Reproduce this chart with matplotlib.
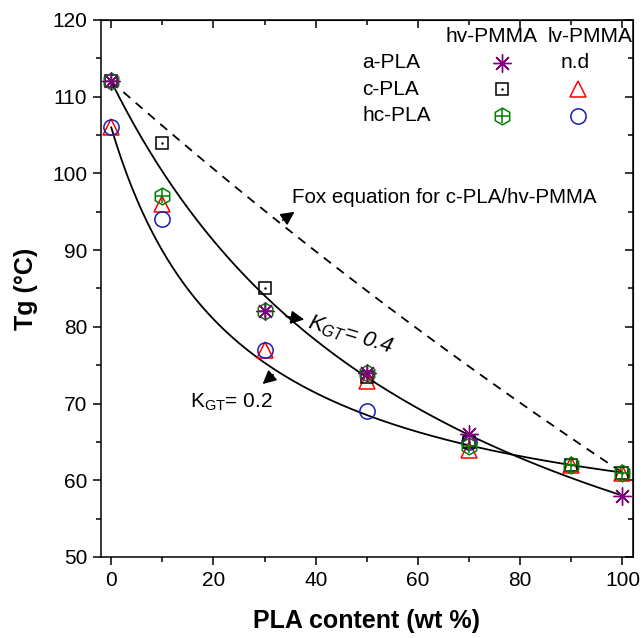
import numpy as np
import matplotlib
matplotlib.use('Agg')
from matplotlib import pyplot as plt
from matplotlib.ticker import MultipleLocator

plt.rcParams['font.family'] = ['Liberation Sans', 'DejaVu Sans']
plt.rcParams['mathtext.fontset'] = 'custom'
plt.rcParams['mathtext.rm'] = 'Liberation Sans'
plt.rcParams['mathtext.it'] = 'Liberation Sans:italic'

# measured Tg values (°C) vs PLA content (wt %)
a_hv_x = [0, 30, 50, 70, 100]
a_hv_y = [112, 82, 74, 66, 58]

c_hv_x = [0, 10, 30, 50, 70, 90, 100]
c_hv_y = [112, 104, 85, 73.5, 65, 62, 61]

hc_hv_x = [0, 10, 30, 50, 70, 90, 100]
hc_hv_y = [112, 97, 82, 74, 64.5, 62, 61]

c_lv_x = [0, 10, 30, 50, 70, 90, 100]
c_lv_y = [106, 96, 77, 73, 64, 62, 61]

hc_lv_x = [0, 10, 30, 50, 70]
hc_lv_y = [106, 94, 77, 69, 65]

# Gordon-Taylor and Fox model parameters shown on the chart
k_gt_upper, tg_pmma_upper, tg_pla_upper = 0.4, 112, 58
k_gt_lower, tg_pmma_lower, tg_pla_lower = 0.2, 106, 61
fox_tg_pmma, fox_tg_pla = 112, 61


def gordon_taylor(w, k, tg_pla, tg_pmma):
    return (w * tg_pla + k * (1 - w) * tg_pmma) / (w + k * (1 - w))


def fox(w, tg_pla, tg_pmma):
    return 1.0 / (w / (tg_pla + 273.15) + (1 - w) / (tg_pmma + 273.15)) - 273.15


fig = plt.figure(figsize=(6.42, 6.38), dpi=100)
ax = fig.add_axes([0.1573, 0.127, 0.8282, 0.8417])

w = np.linspace(0, 1, 200)
ax.plot(w * 100, fox(w, fox_tg_pla, fox_tg_pmma), 'k--', lw=1.3, dashes=(5, 4))
ax.plot(w * 100, gordon_taylor(w, k_gt_upper, tg_pla_upper, tg_pmma_upper), 'k-', lw=1.3)
ax.plot(w * 100, gordon_taylor(w, k_gt_lower, tg_pla_lower, tg_pmma_lower), 'k-', lw=1.3)

purple, green, red, blue = '#800080', '#008000', '#ff0000', '#1c1cb0'

# data markers
ax.plot(c_lv_x, c_lv_y, ls='none', marker='^', ms=11, mfc='none', mec=red, mew=1.1)
ax.plot(hc_lv_x, hc_lv_y, ls='none', marker='o', ms=11, mfc='none', mec=blue, mew=1.1)
ax.plot(c_hv_x, c_hv_y, ls='none', marker='s', ms=8, mfc='none', mec='black', mew=1.1)
ax.plot(c_hv_x, c_hv_y, ls='none', marker='.', ms=1.5, color='black')
ax.plot(hc_hv_x, hc_hv_y, ls='none', marker='h', ms=12, mfc='none', mec=green, mew=1.1)
ax.plot(hc_hv_x, hc_hv_y, ls='none', marker='+', ms=10, mec=green, mew=1.1)
ax.plot(a_hv_x, a_hv_y, ls='none', marker=(8, 2, 0), ms=13, mec=purple, mew=1.0)

# table-style legend
col_hv, col_lv = 76.4, 91.3
rows = [114.4, 111.0, 107.5]
fs = 15
ax.text(74.4, 117.8, 'hv-PMMA', ha='center', va='center', fontsize=fs)
ax.text(93.7, 117.8, 'lv-PMMA', ha='center', va='center', fontsize=fs, clip_on=False)
for label, yy in zip(['a-PLA', 'c-PLA', 'hc-PLA'], rows):
    ax.text(49.1, yy, label, ha='left', va='center', fontsize=fs)
ax.plot(col_hv, rows[0], marker=(8, 2, 0), ms=13, mec=purple, mew=1.0)
ax.text(col_lv - 0.5, rows[0], 'n.d', ha='center', va='center', fontsize=fs)
ax.plot(col_hv, rows[1], marker='s', ms=8, mfc='none', mec='black', mew=1.1)
ax.plot(col_hv, rows[1], marker='.', ms=1.5, color='black')
ax.plot(col_lv, rows[1], marker='^', ms=12, mfc='none', mec=red, mew=1.1)
ax.plot(col_hv, rows[2], marker='h', ms=12, mfc='none', mec=green, mew=1.1)
ax.plot(col_hv, rows[2], marker='+', ms=10, mec=green, mew=1.1)
ax.plot(col_lv, rows[2], marker='o', ms=11, mfc='none', mec=blue, mew=1.1)

# annotations
arrow = dict(arrowstyle='-|>', color='black', lw=1.2, mutation_scale=20)
ax.text(35.4, 96.9, 'Fox equation for c-PLA/hv-PMMA', ha='left', va='center', fontsize=14.8)
ax.annotate('', xy=(36.3, 95.2), xytext=(33.1, 93.7), arrowprops=arrow)

ax.text(38.6, 80.6, r'$\mathit{K}_{\mathit{GT}}$= 0.4', style='italic', ha='left', va='center',
        fontsize=16, rotation=-17, rotation_mode='anchor')
ax.annotate('', xy=(38.3, 80.9), xytext=(33.7, 81.4), arrowprops=arrow)

ax.text(15.5, 70.1, r'K$_{\mathrm{GT}}$= 0.2', ha='left', va='center', fontsize=15)
ax.annotate('', xy=(29.2, 72.3), xytext=(32.1, 74.0), arrowprops=arrow)

# axes
ax.set_xlim(-2, 102)
ax.set_ylim(50, 120)
ax.xaxis.set_major_locator(MultipleLocator(20))
ax.xaxis.set_minor_locator(MultipleLocator(10))
ax.yaxis.set_major_locator(MultipleLocator(10))
ax.yaxis.set_minor_locator(MultipleLocator(5))
ax.tick_params(which='major', direction='out', length=6, width=1.1, labelsize=15, pad=4)
ax.tick_params(which='minor', direction='out', length=3.5, width=1.1)
for s in ax.spines.values():
    s.set_linewidth(1.1)

top = ax.secondary_xaxis('top')
top.xaxis.set_major_locator(MultipleLocator(20))
top.xaxis.set_minor_locator(MultipleLocator(10))
top.tick_params(which='both', direction='in', labeltop=False, width=1.1)
top.tick_params(which='major', length=6)
top.tick_params(which='minor', length=3.5)
right = ax.secondary_yaxis('right')
right.yaxis.set_major_locator(MultipleLocator(10))
right.yaxis.set_minor_locator(MultipleLocator(5))
right.tick_params(which='both', direction='in', labelright=False, width=1.1)
right.tick_params(which='major', length=6)
right.tick_params(which='minor', length=3.5)

ax.set_xlabel('PLA content (wt %)', fontsize=18, fontweight='bold', labelpad=14)
ax.set_ylabel('Tg (°C)', fontsize=18, fontweight='bold', labelpad=10)

fig.savefig('out.png', dpi=100)
